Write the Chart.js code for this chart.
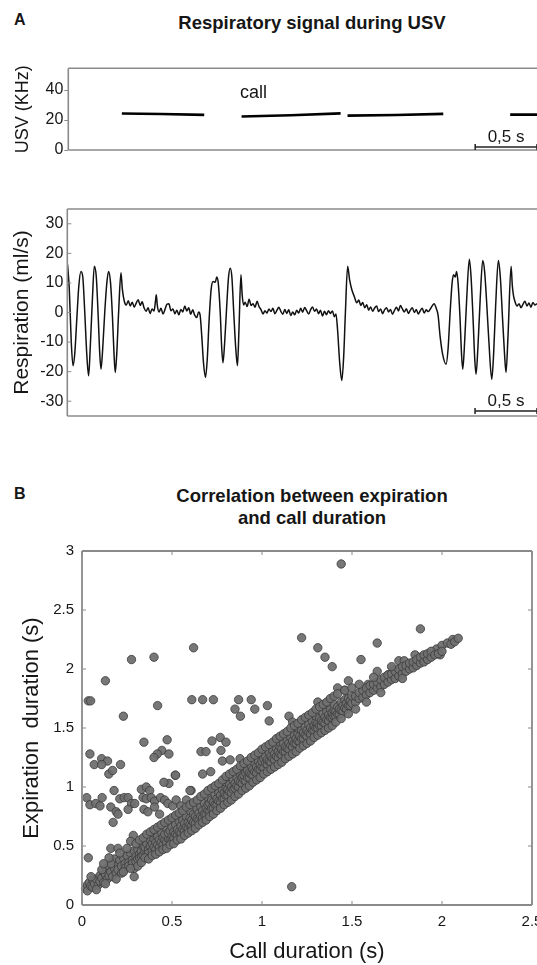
<!DOCTYPE html>
<html>
<head>
<meta charset="utf-8">
<script src="https://cdn.jsdelivr.net/npm/chart.js@4.4.1/dist/chart.umd.min.js"></script>
<style>
  body { margin: 0; width: 537px; height: 965px; overflow: hidden; background: #fff;
         font-family: 'Liberation Sans', Arial, sans-serif; color: #161616; position: relative; }
  .lbl { position: absolute; font-weight: bold; white-space: nowrap; line-height: 22px; }
  .box { position: absolute; left: 0; width: 537px; }
</style>
</head>
<body>

<div class="lbl" style="left:14px; top:9px; font-size:16px">A</div>
<div class="lbl" style="left:0; width:624px; text-align:center; top:12px; font-size:18.5px">Respiratory signal during USV</div>
<div class="lbl" style="left:14px; top:483px; font-size:16px">B</div>
<div class="lbl" style="left:0; width:624px; text-align:center; top:485px; font-size:18.5px">Correlation between expiration<br>and call duration</div>

<div class="box" style="top:55px; height:100px"><canvas id="usv"></canvas></div>
<div class="box" style="top:190px; height:235px"><canvas id="resp"></canvas></div>
<div class="box" style="top:541px; height:424px"><canvas id="corr"></canvas></div>

<script>
// ---- panel A : USV calls (time s, frequency KHz)
const usvCalls = [
  [[0.433, 24.3], [0.75, 24.0], [1.099, 23.4]],
  [[1.401, 22.3], [1.80, 23.2], [2.202, 24.4]],
  [[2.258, 22.9], [2.65, 23.3], [3.032, 24.1]],
  [[3.573, 23.6], [3.79, 23.6]]
];
const usvTicks = [0, 20, 40];

// ---- panel A : respiration trace (time s, flow ml/s)
const burst1 = [[0.002,16.2],[0.016,8],[0.032,-10],[0.046,-18],[0.060,-14],[0.077,-2],[0.093,9],[0.110,13.9],
  [0.125,12],[0.141,0],[0.157,-14],[0.172,-21.4],[0.185,-12],[0.202,4],[0.218,15.6],[0.234,12],[0.250,-2],
  [0.262,-14],[0.272,-19.2],[0.286,-12],[0.302,0],[0.319,10],[0.333,13.9],[0.349,10],[0.365,-2],[0.377,-14],
  [0.387,-20.3],[0.399,-14],[0.414,0],[0.433,13.4],[0.444,8],[0.460,3.8]];
const rest1 = [[0.476,2.5],[0.492,4.0],[0.508,2.2],[0.524,3.5],[0.540,1.8],[0.556,3.2],[0.572,4.3],[0.588,2.4],
  [0.604,3.6],[0.620,1.5],[0.636,0.4],[0.652,1.6],[0.668,-0.3],[0.684,1.2],[0.700,0.5],[0.712,4.0],[0.718,6.0],
  [0.726,2.5],[0.740,0.2],[0.756,1.4],[0.772,-0.5],[0.788,1.0],[0.804,2.8],[0.820,3.0],[0.836,0.6],[0.852,1.2],
  [0.868,-0.4],[0.884,0.8],[0.900,-0.8],[0.916,1.0],[0.932,0.2],[0.948,2.2],[0.964,0.5],[0.980,1.6],[0.996,-0.6],
  [1.012,0.9],[1.028,-0.9],[1.044,-1.7],[1.060,0.2],[1.072,-1.0]];
const burst2 = [[1.085,-8],[1.099,-17],[1.115,-22],[1.129,-16],[1.145,-2],[1.161,8],[1.177,10.5],[1.194,10.2],
  [1.206,12],[1.218,10],[1.234,0],[1.246,-12],[1.256,-17],[1.270,-10],[1.286,2],[1.301,12],[1.315,15],[1.328,12],
  [1.343,0],[1.359,-12],[1.373,-18],[1.385,-6],[1.401,12.8],[1.411,6],[1.423,2.5]];
const rest2 = [[1.435,3.5],[1.451,2.0],[1.467,4.5],[1.483,2.4],[1.499,3.0],[1.515,1.8],[1.531,3.8],[1.547,2.0],
  [1.563,1.0],[1.579,-0.5],[1.595,0.6],[1.611,-0.2],[1.627,1.2],[1.643,0.3],[1.659,1.4],[1.675,-0.4],[1.691,0.7],
  [1.707,1.8],[1.723,0.4],[1.739,-0.6],[1.755,1.0],[1.771,-0.3],[1.787,0.9],[1.803,-1.0],[1.819,0.2],[1.835,-0.8],
  [1.851,0.8],[1.867,-0.2],[1.883,1.4],[1.899,0.1],[1.915,1.7],[1.931,0.6],[1.947,-0.5],[1.963,0.9],[1.979,1.9],
  [1.995,0.4],[2.011,1.2],[2.027,-0.4],[2.043,0.8],[2.059,-1.2],[2.075,0.4],[2.091,-0.8],[2.107,0.6],[2.123,-0.3],
  [2.139,0.5],[2.155,-1.4],[2.168,-0.5]];
const burst3 = [[2.181,-6],[2.198,-17],[2.215,-23],[2.230,-15],[2.244,0],[2.262,15.6],[2.278,11],[2.296,7.7],
  [2.315,5.5],[2.336,3.3]];
const rest3 = [[2.352,4.2],[2.368,2.4],[2.384,3.4],[2.400,1.6],[2.416,2.6],[2.432,0.8],[2.448,1.9],[2.464,0.4],
  [2.480,1.5],[2.496,2.2],[2.512,0.3],[2.528,1.2],[2.544,-0.4],[2.560,0.9],[2.576,1.6],[2.592,0.2],[2.608,1.0],
  [2.624,-0.6],[2.640,0.7],[2.656,1.8],[2.672,0.5],[2.688,2.4],[2.704,1.2],[2.720,0.2],[2.736,1.3],[2.752,-0.3],
  [2.768,0.8],[2.784,1.6],[2.800,0.0],[2.816,1.0],[2.832,-0.5],[2.848,0.6],[2.864,1.4],[2.880,-0.2],[2.896,0.9],
  [2.912,0.3],[2.928,1.1],[2.944,2.2],[2.960,3.0],[2.976,1.5]];
const burst4 = [[2.992,-1],[3.008,-8],[3.028,-14],[3.056,-17.5],[3.073,-12],[3.089,0],[3.105,10],[3.117,12.8],
  [3.131,12],[3.141,13.9],[3.153,10],[3.169,-2],[3.181,-14],[3.191,-19.2],[3.206,-10],[3.222,4],[3.244,18],
  [3.258,12],[3.274,-2],[3.288,-16],[3.298,-20.9],[3.313,-12],[3.331,4],[3.352,17.6],[3.367,14],[3.383,4],
  [3.402,-10],[3.425,-22.6],[3.440,-14],[3.456,2],[3.478,17.6],[3.494,12],[3.512,-2],[3.528,-14],[3.540,-20.3],
  [3.556,-8],[3.581,15.6],[3.591,9],[3.601,5.5]];
const rest4 = [[3.613,3.6],[3.629,2.2],[3.645,3.0],[3.661,1.6],[3.677,2.8],[3.693,3.8],[3.709,2.2],[3.725,3.2],
  [3.741,1.8],[3.757,3.4],[3.773,2.5],[3.789,3.0]];
const respTicks = [-30, -20, -10, 0, 10, 20, 30];

// scale bar (0,5 s), in data units
const barFrom = 3.29, barTo = 3.79;

// ---- panel B : call duration (s) vs expiration duration (s)
const bandPts = [
  [0.02,0.14],[0.03,0.17],[0.03,0.12],[0.04,0.19],[0.05,0.16],[0.06,0.21],[0.06,0.15],[0.07,0.18],[0.08,0.22],
  [0.09,0.17],[0.10,0.25],[0.10,0.20],[0.11,0.23],[0.12,0.28],[0.12,0.19],[0.13,0.26],[0.14,0.30],[0.14,0.22],
  [0.15,0.33],[0.15,0.25],[0.16,0.28],[0.17,0.36],[0.17,0.24],[0.18,0.31],[0.18,0.39],[0.19,0.27],[0.20,0.34],
  [0.20,0.30],[0.21,0.38],[0.22,0.33],[0.22,0.27],[0.23,0.40],[0.24,0.35],[0.24,0.31],[0.25,0.42],[0.26,0.36],
  [0.26,0.33],[0.27,0.44],[0.28,0.38],[0.28,0.35],[0.29,0.46],[0.30,0.41],[0.30,0.37],
  [0.31,0.39],[0.31,0.47],[0.32,0.43],[0.32,0.40],[0.33,0.46],[0.33,0.41],[0.34,0.42],[0.34,0.50],[0.35,0.45],
  [0.35,0.49],[0.36,0.43],[0.36,0.52],[0.37,0.47],[0.37,0.44],[0.38,0.50],[0.38,0.55],[0.39,0.46],[0.39,0.52],
  [0.40,0.49],[0.40,0.56],[0.40,0.61],[0.41,0.47],[0.41,0.53],[0.42,0.51],[0.42,0.58],[0.43,0.49],[0.43,0.55],
  [0.44,0.53],[0.44,0.62],[0.45,0.51],[0.45,0.57],[0.46,0.55],[0.46,0.60],[0.47,0.53],[0.47,0.65],[0.48,0.56],
  [0.48,0.61],[0.49,0.55],[0.49,0.63],[0.50,0.58],[0.50,0.66],[0.50,0.54],[0.51,0.57],[0.51,0.62],[0.52,0.60],
  [0.52,0.68],[0.53,0.59],[0.53,0.64],[0.54,0.62],[0.54,0.71],[0.55,0.61],[0.55,0.67],[0.56,0.64],[0.56,0.72],
  [0.57,0.63],[0.57,0.69],[0.58,0.66],[0.58,0.75],[0.59,0.65],[0.59,0.70],[0.60,0.68],[0.60,0.74],[0.60,0.80],
  [0.61,0.67],[0.61,0.72],[0.62,0.70],[0.62,0.77],[0.63,0.69],[0.63,0.75],[0.64,0.73],[0.64,0.81],[0.65,0.72],
  [0.65,0.78],[0.66,0.75],[0.66,0.83],[0.67,0.74],[0.67,0.80],[0.68,0.77],[0.68,0.86],[0.69,0.77],[0.69,0.82],
  [0.70,0.80],[0.70,0.85],[0.70,0.91],[0.71,0.79],[0.71,0.86],[0.72,0.82],[0.72,0.89],[0.73,0.82],[0.73,0.87],
  [0.74,0.85],[0.74,0.93],[0.75,0.85],[0.75,0.90],[0.76,0.88],[0.76,0.95],[0.77,0.87],[0.77,0.93],[0.78,0.90],
  [0.78,0.98],[0.79,0.90],[0.79,0.95],[0.80,0.93],[0.80,0.99],[0.80,1.04],[0.81,0.93],[0.81,0.98],[0.82,0.96],
  [0.82,1.02],[0.83,0.95],[0.83,1.00],[0.84,0.98],[0.84,1.06],[0.85,0.99],[0.85,1.03],[0.86,1.01],[0.86,1.08],
  [0.87,1.00],[0.87,1.05],[0.88,1.04],[0.88,1.11],[0.89,1.03],[0.89,1.08],[0.90,1.06],[0.90,1.10],[0.90,1.15],
  [0.91,1.05],[0.91,1.12],[0.92,1.08],[0.92,1.14],[0.93,1.08],[0.93,1.12],[0.94,1.11],[0.94,1.18],[0.95,1.10],
  [0.95,1.15],[0.96,1.13],[0.96,1.20],[0.97,1.12],[0.97,1.17],[0.98,1.15],[0.98,1.22],[0.99,1.15],[0.99,1.19],
  [1.00,1.17],[1.00,1.22],[1.00,1.27],
  [1.01,1.16],[1.01,1.24],[1.02,1.20],[1.02,1.26],[1.03,1.19],[1.03,1.23],[1.04,1.22],[1.04,1.29],[1.05,1.21],
  [1.05,1.26],[1.06,1.24],[1.06,1.31],[1.07,1.23],[1.07,1.28],[1.08,1.26],[1.08,1.33],[1.09,1.25],[1.09,1.30],
  [1.10,1.28],[1.10,1.34],[1.10,1.38],[1.11,1.27],[1.11,1.32],[1.12,1.30],[1.12,1.37],[1.13,1.30],[1.13,1.34],
  [1.14,1.33],[1.14,1.40],[1.15,1.32],[1.15,1.37],[1.16,1.35],[1.16,1.42],[1.17,1.34],[1.17,1.39],[1.18,1.37],
  [1.18,1.44],[1.19,1.37],[1.19,1.41],[1.20,1.39],[1.20,1.45],[1.20,1.50],[1.21,1.38],[1.21,1.43],[1.22,1.41],
  [1.22,1.48],[1.23,1.41],[1.23,1.46],[1.24,1.44],[1.24,1.51],[1.25,1.43],[1.25,1.48],[1.26,1.46],[1.26,1.53],
  [1.27,1.45],[1.27,1.50],[1.28,1.48],[1.28,1.56],[1.29,1.48],[1.29,1.52],[1.30,1.50],[1.30,1.55],[1.30,1.60],
  [1.31,1.50],[1.31,1.54],[1.32,1.52],[1.32,1.58],[1.33,1.52],[1.33,1.56],[1.34,1.55],[1.34,1.62],[1.35,1.54],
  [1.35,1.59],[1.36,1.57],[1.36,1.64],[1.37,1.56],[1.37,1.61],[1.38,1.59],[1.38,1.66],[1.39,1.59],[1.39,1.63],
  [1.40,1.60],[1.40,1.65],[1.40,1.70],[1.41,1.60],[1.41,1.64],[1.42,1.62],[1.42,1.68],[1.43,1.62],[1.43,1.66],
  [1.44,1.65],[1.44,1.72],[1.45,1.64],[1.45,1.69],[1.46,1.67],[1.46,1.74],[1.47,1.66],[1.47,1.71],[1.48,1.69],
  [1.48,1.75],[1.49,1.69],[1.49,1.73],[1.50,1.71],[1.50,1.77],
  [1.52,1.72],[1.52,1.77],[1.54,1.75],[1.54,1.80],[1.56,1.76],[1.56,1.82],[1.58,1.78],[1.58,1.84],[1.60,1.80],
  [1.60,1.86],[1.62,1.82],[1.62,1.87],[1.64,1.84],[1.64,1.89],[1.66,1.85],[1.66,1.91],[1.68,1.87],[1.68,1.93],
  [1.70,1.89],[1.70,1.95],[1.72,1.91],[1.72,1.96],[1.74,1.92],[1.74,1.98],[1.76,1.94],[1.76,2.00],[1.78,1.96],
  [1.78,2.02],[1.80,1.98],[1.80,2.03],[1.82,2.00],[1.82,2.05],[1.84,2.01],[1.84,2.06],[1.86,2.03],[1.86,2.08],
  [1.88,2.05],[1.88,2.10],[1.90,2.06],[1.90,2.12],[1.92,2.08],[1.92,2.13],[1.94,2.10],[1.94,2.15],[1.96,2.12],
  [1.98,2.13],[2.00,2.15],[2.05,2.21],[2.07,2.23],[2.09,2.26]
];
// upper and lower fringe of the band
const bandEdgePts = [
  [0.05,0.24],[0.08,0.13],[0.11,0.30],[0.13,0.18],[0.16,0.35],[0.19,0.22],[0.21,0.44],[0.23,0.28],[0.25,0.48],
  [0.27,0.31],[0.15,0.40],[0.12,0.35],
  [0.30,0.52],[0.31,0.33],[0.32,0.55],[0.33,0.36],[0.34,0.57],[0.35,0.40],[0.36,0.60],[0.37,0.39],[0.38,0.62],
  [0.39,0.42],[0.40,0.64],[0.41,0.43],[0.42,0.66],[0.43,0.45],[0.44,0.68],[0.45,0.47],[0.46,0.70],[0.47,0.48],
  [0.48,0.72],[0.49,0.51],[0.50,0.74],[0.51,0.52],[0.52,0.76],[0.53,0.55],[0.54,0.78],[0.55,0.56],[0.56,0.80],
  [0.57,0.59],[0.58,0.83],[0.59,0.61],[0.60,0.85],[0.61,0.63],[0.62,0.87],[0.63,0.65],[0.64,0.89],[0.65,0.68],
  [0.66,0.92],[0.67,0.70],[0.68,0.94],[0.69,0.72],[0.70,0.97],[0.71,0.75],[0.72,0.99],[0.73,0.77],[0.74,1.01],
  [0.75,0.80],[0.76,1.03],[0.77,0.82],[0.78,1.06],[0.79,0.85],[0.80,1.09],[0.81,0.87],[0.82,1.11],[0.83,0.89],
  [0.84,1.13],[0.85,0.92],[0.86,1.15],[0.87,0.94],[0.88,1.18],[0.89,0.97],[0.90,1.20],[0.91,0.99],[0.92,1.22],
  [0.93,1.01],[0.94,1.25],[0.95,1.04],[0.96,1.27],[0.97,1.06],[0.98,1.29],[0.99,1.08],[1.00,1.32],[1.01,1.11],
  [1.02,1.34],[1.03,1.13],[1.04,1.36],[1.05,1.15],[1.06,1.38],[1.07,1.17],[1.08,1.41],[1.09,1.19],[1.10,1.43],
  [1.11,1.21],[1.12,1.45],[1.13,1.24],[1.14,1.47],[1.15,1.26],[1.16,1.50],[1.17,1.28],[1.18,1.52],[1.19,1.30],
  [1.20,1.54],[1.21,1.33],[1.22,1.57],[1.23,1.35],[1.24,1.59],[1.25,1.37],[1.26,1.61],[1.27,1.39],[1.28,1.63],
  [1.29,1.42],[1.30,1.66],[1.31,1.44],[1.32,1.68],[1.33,1.46],[1.34,1.70],[1.35,1.48],[1.36,1.72],[1.37,1.50],
  [1.38,1.75],[1.39,1.52],[1.40,1.77],[1.41,1.55],[1.42,1.79],[1.44,1.58],[1.46,1.82],[1.48,1.62],[1.50,1.84],
  [1.52,1.66],[1.54,1.87],[1.58,1.72],[1.62,1.93],[1.66,1.80],[1.72,2.02],[1.78,1.92]
];
const strayPts = [
  [1.44,2.89],[1.22,2.265],[1.31,2.18],[1.35,2.10],[1.39,2.02],[1.55,2.08],[1.64,2.22],[1.88,2.34],[0.62,2.18],
  [0.275,2.08],[0.40,2.10],[0.13,1.90],[0.035,1.73],[0.048,1.73],[0.23,1.60],[0.42,1.69],[0.61,1.74],[0.67,1.74],
  [0.73,1.74],[0.85,1.66],[0.87,1.74],[0.88,1.60],[0.94,1.74],[0.96,1.66],[1.03,1.69],[1.04,1.56],[1.15,1.60],
  [1.17,1.55],[1.18,1.47],[1.48,1.90],[1.64,1.98],[1.42,1.84],[1.46,1.82],[1.59,1.87],[1.63,1.88],[1.70,1.95],
  [1.73,1.99],[1.76,2.07],[1.79,2.07],[1.85,2.12],[1.86,2.04],[1.97,2.17],[1.99,2.12],[2.00,2.20],[2.03,2.22],
  [2.06,2.25],[1.31,1.72],[1.36,1.70],
  [0.344,1.38],[0.473,1.40],[0.444,1.31],[0.418,1.28],[0.40,1.25],[0.483,1.28],[0.722,1.39],[0.768,1.42],
  [0.80,1.38],[0.661,1.30],[0.689,1.30],[0.772,1.31],[0.78,1.22],[0.823,1.23],[0.878,1.24],[0.044,1.28],
  [0.068,1.19],[0.109,1.24],[0.142,1.22],[0.109,1.19],[0.149,1.11],[0.214,1.19],[0.67,1.11],[0.518,1.10],
  [0.483,1.03],[0.606,0.97],[0.026,0.91],[0.044,0.85],[0.076,0.86],[0.10,0.84],[0.112,0.91],[0.178,0.97],
  [0.16,0.83],[0.19,0.79],[0.20,0.77],[0.173,0.70],[0.21,0.90],[0.234,0.91],[0.256,0.91],[0.275,0.86],
  [0.293,0.86],[0.256,0.81],[0.33,0.98],[0.357,1.00],[0.376,0.97],[0.339,0.91],[0.357,0.90],[0.385,0.91],
  [0.403,0.88],[0.436,0.91],[0.459,0.89],[0.344,0.81],[0.366,0.79],[0.403,0.83],[0.431,0.77],[0.477,0.86],
  [0.504,0.84],[0.523,0.89],[0.55,0.84],[0.60,0.97],[0.455,1.04],[0.52,1.10],[0.715,1.13],[0.58,0.89],
  [0.17,1.14],[0.035,0.40],[0.16,0.48],[0.20,0.48],[0.29,0.31],[0.29,0.24],[0.285,0.59],[0.27,0.54],
  [1.165,0.155]
];
const corrXTicks = [0, 0.5, 1, 1.5, 2, 2.5];
const corrYTicks = [0, 0.5, 1, 1.5, 2, 2.5, 3];

Chart.defaults.font.family = "'Liberation Sans', Arial, sans-serif";
Chart.defaults.color = '#161616';
Chart.defaults.animation = false;

const frameColor = '#8a8a8a';

// box lines and inward tick marks, matlab style
const panelFrame = {
  id: 'panelFrame',
  afterDatasetsDraw(chart, args, o) {
    const { ctx, chartArea: a, scales } = chart;
    ctx.save();
    ctx.strokeStyle = frameColor;
    ctx.lineWidth = o.width;
    ctx.beginPath();
    if (o.sides.includes('top')) { ctx.moveTo(a.left, a.top); ctx.lineTo(a.right, a.top); }
    if (o.sides.includes('bottom')) { ctx.moveTo(a.left, a.bottom); ctx.lineTo(a.right, a.bottom); }
    if (o.sides.includes('left')) { ctx.moveTo(a.left, a.top); ctx.lineTo(a.left, a.bottom); }
    if (o.sides.includes('right')) { ctx.moveTo(a.right, a.top); ctx.lineTo(a.right, a.bottom); }
    ctx.stroke();
    ctx.lineWidth = 1;
    ctx.beginPath();
    (o.inner || []).forEach(id => {
      const s = scales[id];
      s.ticks.forEach(t => {
        const p = s.getPixelForValue(t.value);
        if (s.isHorizontal()) {
          ctx.moveTo(p, a.bottom); ctx.lineTo(p, a.bottom - o.tick);
          if (o.sides.includes('top')) { ctx.moveTo(p, a.top); ctx.lineTo(p, a.top + o.tick); }
        } else {
          ctx.moveTo(a.left, p); ctx.lineTo(a.left + o.tick, p);
          if (o.sides.includes('right')) { ctx.moveTo(a.right, p); ctx.lineTo(a.right - o.tick, p); }
        }
      });
    });
    ctx.stroke();
    ctx.restore();
  }
};

// time scale bar and free text, placed through the scales
const scaleBar = {
  id: 'scaleBar',
  afterDatasetsDraw(chart, args, o) {
    const { ctx, scales: { x, y } } = chart;
    const x0 = x.getPixelForValue(o.from), x1 = x.getPixelForValue(o.to);
    const yb = y.getPixelForValue(o.at);
    ctx.save();
    ctx.strokeStyle = '#222';
    ctx.lineWidth = 1.5;
    ctx.beginPath();
    ctx.moveTo(x0, yb); ctx.lineTo(x1, yb);
    ctx.moveTo(x0, yb - 3); ctx.lineTo(x0, yb + 3);
    ctx.moveTo(x1, yb - 3); ctx.lineTo(x1, yb + 3);
    ctx.stroke();
    ctx.fillStyle = '#161616';
    ctx.font = "17px 'Liberation Sans', Arial, sans-serif";
    ctx.textAlign = 'center';
    ctx.textBaseline = 'middle';
    ctx.fillText(o.text, (x0 + x1) / 2, y.getPixelForValue(o.textAt));
    (o.notes || []).forEach(n => {
      ctx.font = n.font;
      ctx.textAlign = 'left';
      ctx.fillText(n.text, x.getPixelForValue(n.x), y.getPixelForValue(n.y));
    });
    ctx.restore();
  }
};

function fixWidth(w) {
  return s => { s.width = w; s.paddingTop = 0; s.paddingBottom = 0; };
}
const plainNumber = v => String(v);

const traceX = { type: 'linear', min: 0, max: 3.79, display: false };

new Chart(document.getElementById('usv'), {
  type: 'line',
  data: {
    datasets: usvCalls.map(c => ({
      data: c.map(([x, y]) => ({ x, y })),
      borderColor: '#000', borderWidth: 2.6, pointRadius: 0, tension: 0
    }))
  },
  options: {
    responsive: true, maintainAspectRatio: false,
    layout: { padding: { top: 13.3, bottom: 5, left: 0, right: 0 } },
    plugins: {
      legend: { display: false }, tooltip: { enabled: false },
      panelFrame: { sides: ['left', 'top', 'bottom'], width: 1.6 },
      scaleBar: { from: barFrom, to: barTo, at: 2, text: '0,5 s', textAt: 8.5,
        notes: [{ text: 'call', x: 1.388, y: 37.8, font: "18px 'Liberation Sans', Arial, sans-serif" }] }
    },
    scales: {
      x: traceX,
      y: {
        min: 0, max: 54.5,
        afterBuildTicks: s => { s.ticks = usvTicks.map(v => ({ value: v })); },
        ticks: { font: { size: 16 }, padding: 1, includeBounds: false, callback: plainNumber },
        grid: { drawOnChartArea: false, drawTicks: true, tickLength: 4, color: frameColor },
        border: { display: false },
        title: { display: true, text: 'USV (KHz)', font: { size: 18 }, padding: { top: 12, bottom: 0 } },
        afterFit: fixWidth(68.3)
      }
    }
  },
  plugins: [panelFrame, scaleBar]
});

new Chart(document.getElementById('resp'), {
  type: 'line',
  data: {
    datasets: [{
      data: [...burst1, ...rest1, ...burst2, ...rest2, ...burst3, ...rest3, ...burst4, ...rest4]
        .map(([x, y]) => ({ x, y })),
      borderColor: '#111', borderWidth: 1.5, pointRadius: 0,
      cubicInterpolationMode: 'monotone'
    }]
  },
  options: {
    responsive: true, maintainAspectRatio: false,
    layout: { padding: { top: 19, bottom: 9, left: 0, right: 0 } },
    plugins: {
      legend: { display: false }, tooltip: { enabled: false },
      panelFrame: { sides: ['left', 'top', 'bottom'], width: 1.6, inner: ['y'], tick: 4 },
      scaleBar: { from: barFrom, to: barTo, at: -33.3, text: '0,5 s', textAt: -30.2 }
    },
    scales: {
      x: traceX,
      y: {
        min: -35, max: 35,
        afterBuildTicks: s => { s.ticks = respTicks.map(v => ({ value: v })); },
        ticks: { font: { size: 16 }, padding: 4, includeBounds: false, callback: plainNumber },
        grid: { display: false, drawTicks: false },
        border: { display: false },
        title: { display: true, text: 'Respiration (ml/s)', font: { size: 21 }, padding: { top: 10, bottom: 0 } },
        afterFit: fixWidth(67.3)
      }
    }
  },
  plugins: [panelFrame, scaleBar]
});

const dotStyle = {
  backgroundColor: 'rgba(112,112,112,0.95)', borderColor: '#3a3a3a', borderWidth: 0.8,
  pointRadius: 4.2, clip: false
};

new Chart(document.getElementById('corr'), {
  type: 'scatter',
  data: {
    datasets: [
      { data: bandEdgePts.map(([x, y]) => ({ x, y })), ...dotStyle },
      { data: bandPts.map(([x, y]) => ({ x, y })), ...dotStyle },
      { data: strayPts.map(([x, y]) => ({ x, y })), ...dotStyle }
    ]
  },
  options: {
    responsive: true, maintainAspectRatio: false,
    layout: { padding: { top: 10, bottom: 0, left: 0, right: 3 } },
    plugins: {
      legend: { display: false }, tooltip: { enabled: false },
      panelFrame: { sides: ['left', 'top', 'bottom', 'right'], width: 1.8, inner: ['x', 'y'], tick: 4 }
    },
    scales: {
      x: {
        type: 'linear', min: 0, max: 2.5,
        afterBuildTicks: s => { s.ticks = corrXTicks.map(v => ({ value: v })); },
        ticks: { font: { size: 15 }, padding: 8, maxRotation: 0, callback: plainNumber },
        grid: { display: false, drawTicks: false },
        border: { display: false },
        title: { display: true, text: 'Call duration (s)', font: { size: 22 }, padding: { top: 0, bottom: 0 } },
        afterFit: s => { s.height = 60; s.paddingLeft = 0; s.paddingRight = 0; }
      },
      y: {
        min: 0, max: 3,
        afterBuildTicks: s => { s.ticks = corrYTicks.map(v => ({ value: v })); },
        ticks: { font: { size: 15 }, padding: 8, callback: plainNumber },
        grid: { display: false, drawTicks: false },
        border: { display: false },
        title: { display: true, text: 'Expiration  duration (s)', font: { size: 22 }, padding: { top: 19, bottom: 0 } },
        afterFit: fixWidth(82)
      }
    }
  },
  plugins: [panelFrame]
});
</script>
</body>
</html>
